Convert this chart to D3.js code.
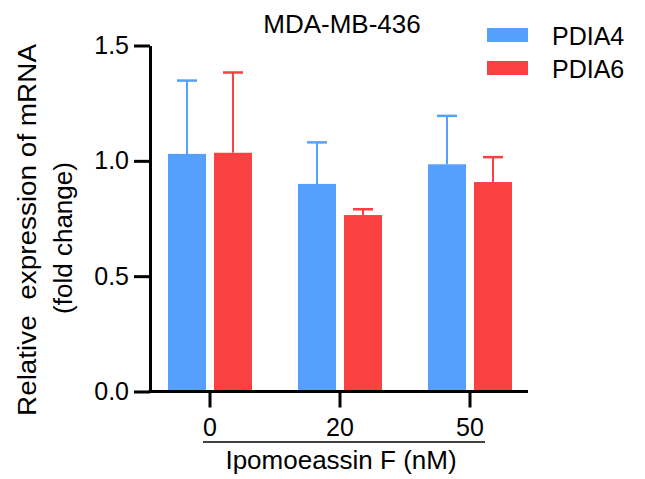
<!DOCTYPE html>
<html><head><meta charset="utf-8">
<script src="https://cdn.jsdelivr.net/npm/d3@7"></script>
<style>body{margin:0;background:#fff}svg{display:block}text{font-family:"Liberation Sans",Arial,sans-serif;fill:#000;white-space:pre}</style>
</head><body>
<svg id="c" width="645" height="479"></svg>
<script>
const categories = ["0", "20", "50"];
const series = ["PDIA4", "PDIA6"];
const pdia4Mean = [1.03, 0.90, 0.985];
const pdia4Err = [1.348, 1.08, 1.195];
const pdia6Mean = [1.035, 0.765, 0.908];
const pdia6Err = [1.383, 0.79, 1.016];
const yTicks = [0.0, 0.5, 1.0, 1.5];
const colors = ["#55A0FC", "#FA4141"];
const title = "MDA-MB-436";
const xTitle = "Ipomoeassin F (nM)";
const yTitle1 = "Relative  expression of mRNA";
const yTitle2 = "(fold change)";

const data = categories.map((c, i) => ({
  cat: c,
  vals: [
    {s: series[0], mean: pdia4Mean[i], top: pdia4Err[i]},
    {s: series[1], mean: pdia6Mean[i], top: pdia6Err[i]}
  ]
}));

const svg = d3.select("#c");
const y = d3.scaleLinear().domain([0, 1.5]).range([391.5, 45.5]);
const x = d3.scaleBand().domain(categories).range([145, 535]).padding(0);
const xi = d3.scaleBand().domain(series).range([-42, 42]).paddingInner(8/46);
const color = d3.scaleOrdinal().domain(series).range(colors);

// bars
const g = svg.selectAll("g.grp").data(data).join("g")
  .attr("transform", d => `translate(${x(d.cat) + x.bandwidth()/2},0)`);
g.selectAll("rect").data(d => d.vals).join("rect")
  .attr("x", d => xi(d.s)).attr("width", xi.bandwidth())
  .attr("y", d => y(d.mean)).attr("height", d => y(0) - y(d.mean))
  .attr("fill", d => color(d.s));
// error bars
g.selectAll("line.ev").data(d => d.vals).join("line")
  .attr("x1", d => xi(d.s) + xi.bandwidth()/2).attr("x2", d => xi(d.s) + xi.bandwidth()/2)
  .attr("y1", d => y(d.mean)).attr("y2", d => y(d.top))
  .attr("stroke", d => color(d.s)).attr("stroke-width", 2);
g.selectAll("line.cap").data(d => d.vals).join("line")
  .attr("x1", d => xi(d.s) + xi.bandwidth()/2 - 10).attr("x2", d => xi(d.s) + xi.bandwidth()/2 + 10)
  .attr("y1", d => y(d.top)).attr("y2", d => y(d.top))
  .attr("stroke", d => color(d.s)).attr("stroke-width", 2.5);

// y axis
const ya = svg.append("g").attr("transform", "translate(150,0)")
  .call(d3.axisLeft(y).tickValues(yTicks).tickFormat(d3.format(".1f")).tickSize(16).tickSizeOuter(0).tickPadding(5));
ya.select(".domain").attr("stroke-width", 3).attr("stroke", "#000");
ya.selectAll(".tick line").attr("stroke-width", 3).attr("stroke", "#000");
ya.selectAll(".tick text").attr("font-size", 25).attr("font-family", "Liberation Sans, Arial, sans-serif").attr("fill", "#000");

// x axis
svg.append("line").attr("x1", 148.5).attr("x2", 528).attr("y1", y(0)).attr("y2", y(0))
  .attr("stroke", "#000").attr("stroke-width", 3);
const xa = svg.append("g").attr("transform", `translate(0,${y(0)})`)
  .call(d3.axisBottom(x).tickSize(16).tickSizeOuter(0).tickPadding(11));
xa.select(".domain").remove();
xa.selectAll(".tick line").attr("stroke-width", 3).attr("stroke", "#000");
xa.selectAll(".tick text").attr("font-size", 25).attr("font-family", "Liberation Sans, Arial, sans-serif").attr("fill", "#000");

svg.append("line").attr("x1", 203).attr("x2", 485).attr("y1", 442).attr("y2", 442)
  .attr("stroke", "#000").attr("stroke-width", 1.5);
svg.append("text").attr("x", 341).attr("y", 469).attr("text-anchor", "middle").attr("font-size", 26).text(xTitle);

// y title
svg.append("text").attr("transform", "translate(36,230) rotate(-90)").attr("text-anchor", "middle").attr("font-size", 26)
  .attr("textLength", 372).attr("lengthAdjust", "spacingAndGlyphs").text(yTitle1);
svg.append("text").attr("transform", "translate(72,238) rotate(-90)").attr("text-anchor", "middle").attr("font-size", 26).text(yTitle2);

// title
svg.append("text").attr("x", 342).attr("y", 33).attr("text-anchor", "middle").attr("font-size", 26).text(title);

// legend
const lg = svg.selectAll("g.lg").data(series).join("g").attr("transform", (d, i) => `translate(487,${28 + i*33})`);
lg.append("rect").attr("width", 41).attr("height", 14).attr("fill", d => color(d));
lg.append("text").attr("x", 65).attr("y", 17).attr("font-size", 25).text(d => d);
</script>
</body></html>
